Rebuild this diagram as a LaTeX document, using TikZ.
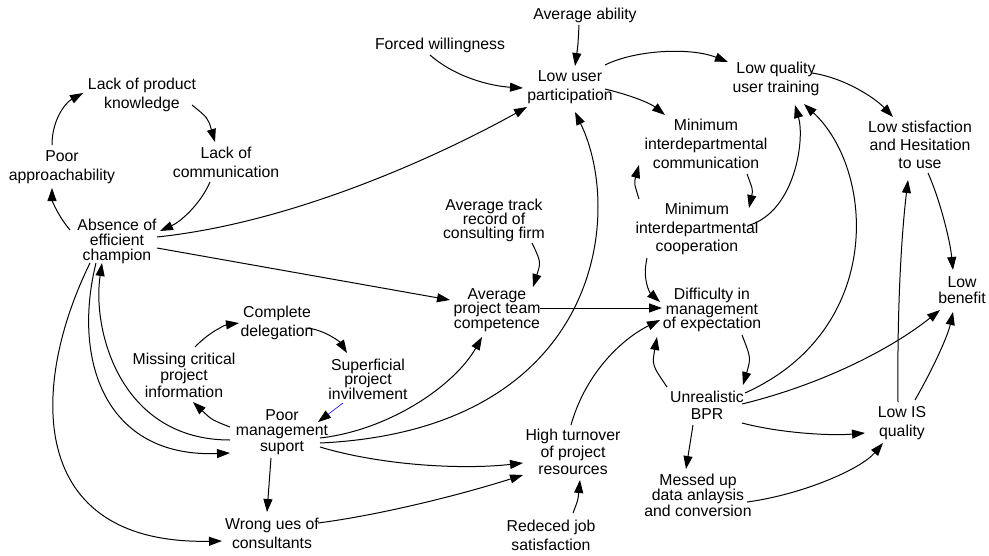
\documentclass[tikz,border=0pt]{standalone}
\usepackage{fontspec}
\setmainfont{Liberation Sans}
\usetikzlibrary{arrows.meta,calc}
\newcommand\vfnt[1]{\fontsize{15.8}{#1}\selectfont\lineskiplimit=-100pt\relax}
\begin{document}
\begin{tikzpicture}[x=1pt,y=-1pt,
  txt/.style={font=\vfnt{#1}, align=center, inner sep=0pt},
  txt/.default=19,
  arr/.style={line width=1pt, -{Triangle[length=13pt,width=9pt]}},
  barr/.style={line width=0.6pt, blue, -{Triangle[length=13pt,width=9pt,color=black]}}]
\useasboundingbox (0,0) rectangle (989,555);
% nodes
\node[txt] (aa) at (585,15) {Average ability};
\node[txt] (fw) at (440,45) {Forced willingness};
\node[txt] (lup) at (570,87) {Low user\\participation};
\node[txt] (lqt) at (776,79) {Low quality\\user training};
\node[txt] (lpk) at (142,95) {Lack of product\\knowledge};
\node[txt] (pap) at (62,167) {Poor\\approachability};
\node[txt] (lcm) at (226,162) {Lack of\\communication};
\node[txt=15] (abs) at (117,241) {Absence of\\efficient\\champion};
\node[txt] (mic) at (706,144) {Minimum\\interdepartmental\\communication};
\node[txt=18] (lsh) at (920,145) {Low stisfaction\\and Hesitation\\to use};
\node[txt=18.5] (mco) at (697,229) {Minimum\\interdepartmental\\cooperation};
\node[txt=14] (atr) at (494,220) {Average track\\record of\\consulting firm};
\node[txt=14.2] (apc) at (497,310) {Average\\project team\\competence};
\node[txt=14.8] (dif) at (712,310) {Difficulty in\\management\\of expectation};
\node[txt=16] (lbn) at (962,290) {Low\\benefit};
\node[txt] (cdl) at (277,323) {Complete\\delegation};
\node[txt=16.5] (mci) at (184,375) {Missing critical\\project\\information};
\node[txt=14.5] (spi) at (368,379) {Superficial\\project\\invilvement};
\node[txt=15.5] (pm) at (282,432) {Poor\\management\\suport};
\node[txt=17] (unr) at (707,405) {Unrealistic\\BPR};
\node[txt] (lis) at (902,423) {Low IS\\quality};
\node[txt=17] (htr) at (573,452) {High turnover\\of project\\resources};
\node[txt=15.5] (mud) at (698,495) {Messed up\\data anlaysis\\and conversion};
\node[txt] (rjs) at (551,535) {Redeced job\\satisfaction};
\node[txt] (wrg) at (272,533) {Wrong ues of\\consultants};
% connectors
\draw[arr] ($(aa)+(-6,10)$) .. controls (578,45) .. ($(lup)+(5,-21)$);
\draw[arr] ($(fw)+(-10,10)$) .. controls (455,77) and (490,86) .. ($(lup)+(-47,1)$);
\draw[arr] ($(lup)+(35,-22)$) .. controls (635,50) and (690,47) .. ($(lqt)+(-48,-17)$);
\draw[arr] ($(lup)+(35,2)$) .. controls (630,95) and (650,103) .. ($(mic)+(-41,-29)$);
\draw[arr] ($(lqt)+(36,-6)$) .. controls (845,78) and (875,98) .. ($(lsh)+(-27,-28)$);
\draw[arr] ($(lsh)+(8,28)$) .. controls (940,200) and (950,240) .. ($(lbn)+(-9,-20)$);
\draw[arr] ($(lpk)+(50,10)$) .. controls (208,118) .. ($(lcm)+(-11,-20)$);
\draw[arr] ($(lcm)+(-16,20)$) .. controls (200,205) and (180,222) .. ($(abs)+(43,-10)$);
\draw[arr] ($(abs)+(-47,-11)$) .. controls (58,216) and (52,200) .. ($(pap)+(-10,21)$);
\draw[arr] ($(pap)+(-10,-22)$) .. controls (52,120) and (65,103) .. ($(lpk)+(-59,-2)$);
\draw[arr] ($(abs)+(40,-4)$) .. controls (300,222) and (450,150) .. ($(lup)+(-43,20)$);
\draw[arr] ($(abs)+(40,7)$) -- ($(apc)+(-47,-10)$);
\draw[arr] ($(abs)+(-27,22)$) .. controls (30,385) and (25,545) .. ($(wrg)+(-50,8)$);
\draw[arr] ($(abs)+(-21,22)$) .. controls (72,360) and (105,458) .. ($(pm)+(-52,21)$);
\draw[arr] ($(pm)+(-52,8)$) .. controls (120,440) and (92,330) .. ($(abs)+(-15,22)$);
\draw[arr] ($(pm)+(-52,-5)$) .. controls (212,420) .. ($(mci)+(9,27)$);
\draw[arr] ($(mci)+(11,-28)$) .. controls (208,333) and (225,325) .. ($(cdl)+(-38,0)$);
\draw[arr] ($(cdl)+(30,5)$) .. controls (325,330) and (340,342) .. ($(spi)+(-21,-26)$);
\draw[barr] ($(spi)+(-25,24)$) -- ($(pm)+(36,-10)$);
\draw[arr] ($(pm)+(-11,26)$) -- ($(wrg)+(-5,-21)$);
\draw[arr] ($(pm)+(38,6)$) .. controls (390,430) and (455,385) .. ($(apc)+(-15,27)$);
\draw[arr] ($(pm)+(38,11)$) .. controls (600,430) and (625,215) .. ($(lup)+(5,25)$);
\draw[arr] ($(pm)+(38,15)$) .. controls (380,465) and (460,470) .. ($(htr)+(-50,11)$);
\draw[arr] ($(wrg)+(46,-10)$) .. controls (380,515) and (460,495) .. ($(htr)+(-50,23)$);
\draw[arr] ($(rjs)+(22,-22)$) .. controls (578,500) .. ($(htr)+(7,28)$);
\draw[arr] ($(htr)+(-2,-27)$) .. controls (585,375) and (620,340) .. ($(dif)+(-52,10)$);
\draw[arr] ($(apc)+(43,-2)$) -- ($(dif)+(-50,-2)$);
\draw[arr] ($(atr)+(38,23)$) .. controls (541,262) .. ($(apc)+(36,-23)$);
\draw[arr] ($(mco)+(-50,29)$) .. controls (642,280) and (650,293) .. ($(dif)+(-52,-8)$);
\draw[arr] ($(unr)+(-40,-18)$) .. controls (652,365) .. ($(dif)+(-55,27)$);
\draw[arr] ($(dif)+(30,25)$) .. controls (751,358) .. ($(unr)+(36,-20)$);
\draw[arr] ($(mic)+(41,30)$) .. controls (753,190) .. ($(mco)+(52,-21)$);
\draw[arr] ($(mco)+(-58,-30)$) .. controls (634,183) .. ($(mic)+(-67,21)$);
\draw[arr] ($(mco)+(53,-4)$) .. controls (795,210) and (805,140) .. ($(lqt)+(19,26)$);
\draw[arr] ($(unr)+(38,-12)$) .. controls (885,330) and (875,170) .. ($(lqt)+(28,25)$);
\draw[arr] ($(unr)+(35,-1)$) .. controls (820,385) and (890,350) .. ($(lbn)+(-22,20)$);
\draw[arr] ($(lis)+(13,-23)$) .. controls (935,365) and (948,335) .. ($(lbn)+(-9,22)$);
\draw[arr] ($(lis)+(-4,-21)$) .. controls (897,300) and (902,230) .. ($(lsh)+(-12,35)$);
\draw[arr] ($(unr)+(35,18)$) .. controls (780,433) and (830,436) .. ($(lis)+(-37,10)$);
\draw[arr] ($(unr)+(-14,20)$) -- ($(mud)+(-12,-26)$);
\draw[arr] ($(mud)+(49,7)$) .. controls (800,495) and (860,470) .. ($(lis)+(-19,20)$);
\end{tikzpicture}
\end{document}
